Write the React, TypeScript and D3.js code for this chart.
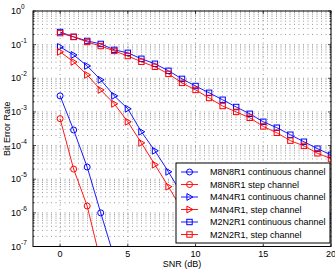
import React from "react";
import * as d3 from "d3";

const snrSquares = d3.range(0, 21);
const m2ContBer = [0.238, 0.17, 0.129, 0.105, 0.07, 0.057, 0.038, 0.027, 0.0167, 0.0096, 0.0059, 0.0037, 0.0023, 0.0014, 8.8e-4, 5.1e-4, 3.4e-4, 2.1e-4, 1.3e-4, 8.1e-5, 5.3e-5];
const m2StepBer = [0.22, 0.17, 0.12, 0.091, 0.065, 0.046, 0.031, 0.022, 0.0135, 0.0073, 0.0045, 0.0026, 0.0015, 0.001, 6.7e-4, 3.7e-4, 2.4e-4, 1.4e-4, 9.8e-5, 5.9e-5, 4.1e-5];
const snrTriangles = [0, 1, 2, 3, 4, 5, 6, 7, 8, 9];
const m4ContBer = [0.0855, 0.0494, 0.0233, 0.009, 0.003, 0.00124, 2.57e-4, 7.0e-5, 1.66e-5, 3.5e-6];
const m4StepBer = [0.061, 0.0307, 0.0126, 0.0045, 0.00174, 5.1e-4, 1.2e-4, 2.7e-5, 6.0e-6, 1.25e-6];
const snrM8Cont = [0, 1, 2, 3, 4];
const m8ContBer = [3.0e-3, 2.9e-4, 2.3e-5, 1.0e-6, 4.7e-8];
const snrM8Step = [0, 1, 2, 3];
const m8StepBer = [6.3e-4, 2.0e-5, 1.6e-6, 3.5e-8];

const xTicks = [0, 5, 10, 15, 20];
const yExponents = [0, -1, -2, -3, -4, -5, -6, -7];
const legendLabels = [
  "M8N8R1 continuous channel",
  "M8N8R1 step channel",
  "M4N4R1 continuous channel",
  "M4N4R1, step channel",
  "M2N2R1 continuous channel",
  "M2N2R1, step channel",
];

const BLUE = "#0000ff";
const RED = "#ff0000";

type Series = { x: number[]; y: number[]; color: string; marker: "o" | ">" | "s" };
const series: Series[] = [
  { x: snrM8Cont, y: m8ContBer, color: BLUE, marker: "o" },
  { x: snrM8Step, y: m8StepBer, color: RED, marker: "o" },
  { x: snrTriangles, y: m4ContBer, color: BLUE, marker: ">" },
  { x: snrTriangles, y: m4StepBer, color: RED, marker: ">" },
  { x: snrSquares, y: m2ContBer, color: BLUE, marker: "s" },
  { x: snrSquares, y: m2StepBer, color: RED, marker: "s" },
];

const L = 33, R = 331, T = 11, B = 246.5;
const FONT = "'Liberation Sans', Arial, sans-serif";

function Marker({ type, cx, cy, color }: { type: string; cx: number; cy: number; color: string }) {
  if (type === "o") return <circle cx={cx} cy={cy} r={3} fill="none" stroke={color} strokeWidth={1} />;
  if (type === "s") return <rect x={cx - 2.7} y={cy - 2.7} width={5.4} height={5.4} fill="none" stroke={color} strokeWidth={1} />;
  return <path d={`M${cx + 3.4},${cy} L${cx - 2.6},${cy - 3.4} L${cx - 2.6},${cy + 3.4} Z`} fill="none" stroke={color} strokeWidth={1} />;
}

export default function App() {
  const x = d3.scaleLinear().domain([-2, 20]).range([L, R]);
  const y = d3.scaleLog().domain([1e-7, 1]).range([B, T]);
  const line = d3.line<[number, number]>().x((d) => x(d[0])).y((d) => y(d[1]));

  const minorY: number[] = [];
  for (let e = -7; e < 0; e++) for (let m = 1; m <= 9; m++) minorY.push(m * Math.pow(10, e));
  minorY.push(1);

  const legX = 176, legY = 163, legW = 154, legH = 80;
  return (
    <svg width={335} height={270} style={{ position: "absolute", left: 0, top: 0 }} fontFamily={FONT}>
      <defs>
        <clipPath id="plot">
          <rect x={L} y={T} width={R - L} height={B - T} />
        </clipPath>
      </defs>
      <rect x={0} y={0} width={335} height={270} fill="#fff" />
      {/* grid */}
      <g stroke="#999" strokeWidth={1} strokeDasharray="1,3.5">
        {minorY.map((v, i) => (
          <line key={"gy" + i} x1={L} x2={R} y1={y(v)} y2={y(v)} />
        ))}
        {xTicks.map((t) => (
          <line key={"gx" + t} x1={x(t)} x2={x(t)} y1={T} y2={B} />
        ))}
      </g>
      {/* ticks */}
      <g stroke="#000" strokeWidth={0.7}>
        {xTicks.map((t) => (
          <g key={"tx" + t}>
            <line x1={x(t)} x2={x(t)} y1={B} y2={B - 3} />
            <line x1={x(t)} x2={x(t)} y1={T} y2={T + 3} />
          </g>
        ))}
        {minorY.map((v, i) => {
          const major = Math.abs(Math.log10(v) - Math.round(Math.log10(v))) < 1e-9;
          const len = major ? 3 : 1.6;
          return (
            <g key={"ty" + i}>
              <line x1={L} x2={L + len} y1={y(v)} y2={y(v)} />
              <line x1={R} x2={R - len} y1={y(v)} y2={y(v)} />
            </g>
          );
        })}
      </g>
      {/* data */}
      <g clipPath="url(#plot)">
        {series.map((s, i) => {
          const pts = s.x.map((xv, j) => [xv, s.y[j]] as [number, number]);
          return (
            <g key={"s" + i}>
              <path d={line(pts) || ""} fill="none" stroke={s.color} strokeWidth={0.9} />
              {pts.map((p, j) => (
                <Marker key={j} type={s.marker} cx={x(p[0])} cy={y(p[1])} color={s.color} />
              ))}
            </g>
          );
        })}
      </g>
      {/* axes box */}
      <rect x={L} y={T} width={R - L} height={B - T} fill="none" stroke="#000" strokeWidth={1} />
      {/* tick labels */}
      <g fontSize={9} fill="#000">
        {xTicks.map((t) => (
          <text key={"lx" + t} x={x(t)} y={B + 10} textAnchor="middle">{t}</text>
        ))}
        {yExponents.map((e) => (
          <g key={"ly" + e}>
            <text x={L - 12} y={y(Math.pow(10, e)) + 3} textAnchor="end">10</text>
            <text x={L - 12} y={y(Math.pow(10, e)) - 2} fontSize={6.5} textAnchor="start">{e}</text>
          </g>
        ))}
      </g>
      <text x={(L + R) / 2} y={267} fontSize={9} textAnchor="middle">SNR (dB)</text>
      <text transform={`translate(10,${(T + B) / 2}) rotate(-90)`} fontSize={9} textAnchor="middle">Bit Error Rate</text>
      {/* legend */}
      <rect x={legX} y={legY} width={legW} height={legH} fill="#fff" stroke="#000" strokeWidth={1} />
      {legendLabels.map((lab, i) => {
        const s = series[i];
        const ly = legY + 9 + i * 12.5;
        return (
          <g key={"lg" + i}>
            <line x1={legX + 5} x2={legX + 22} y1={ly} y2={ly} stroke={s.color} strokeWidth={0.9} />
            <Marker type={s.marker} cx={legX + 13.5} cy={ly} color={s.color} />
            <text x={legX + 34} y={ly + 3.2} fontSize={9}>{lab}</text>
          </g>
        );
      })}
    </svg>
  );
}
